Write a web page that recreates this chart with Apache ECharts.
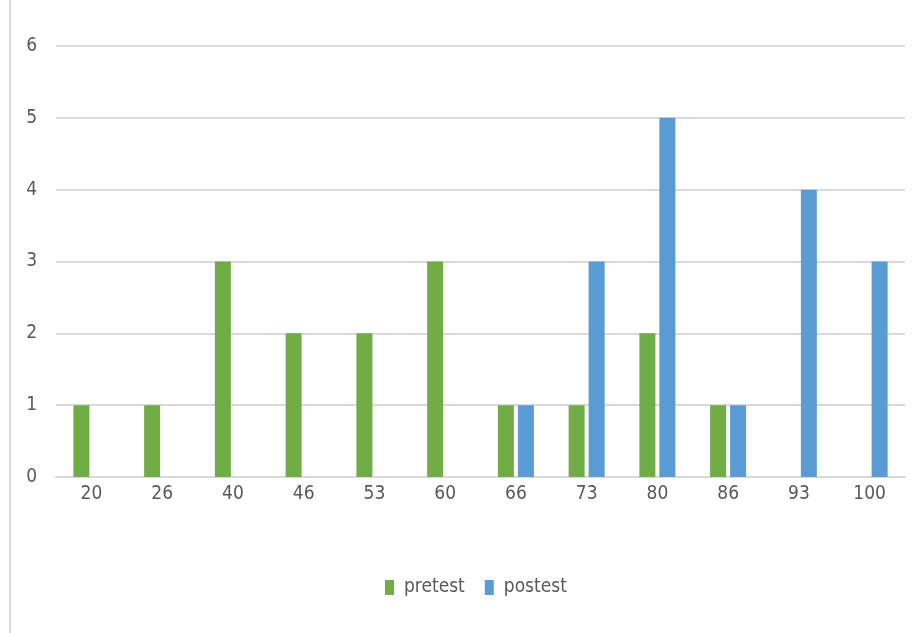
<!DOCTYPE html>
<html>
<head>
<meta charset="utf-8">
<script src="https://cdn.jsdelivr.net/npm/echarts@6/dist/echarts.min.js"></script>
<style>
  html, body { margin: 0; padding: 0; background: #fff; }
  #main { width: 918px; height: 633px; }
</style>
</head>
<body>
<div id="main"></div>
<script>
// scores on the x axis
let scores = ['20', '26', '40', '46', '53', '60', '66', '73', '80', '86', '93', '100'];
// number of students per score
let pretest = [1, 1, 3, 2, 2, 3, 1, 1, 2, 1, null, null];
let postest = [null, null, null, null, null, null, 1, 3, 5, 1, 4, 3];

let font = '"DejaVu Sans Condensed", "Liberation Sans Narrow", sans-serif';

let option = {
    animation: false,
    textStyle: {fontFamily: font},
    grid: {left: 56, right: 13, top: 46, bottom: 156, containLabel: false},
    legend: {
        top: 578,
        left: 385,
        padding: 0,
        icon: 'rect',
        itemWidth: 9,
        itemHeight: 15,
        itemGap: 20,
        textStyle: {fontFamily: font, fontSize: 19, color: '#595959', padding: [0, 0, 0, 5]},
        data: ['pretest', 'postest']
    },
    xAxis: {
        type: 'category',
        data: scores,
        axisTick: {show: false},
        axisLine: {lineStyle: {color: '#d9d9d9', width: 2}},
        axisLabel: {fontFamily: font, fontSize: 19, color: '#595959', margin: 8}
    },
    yAxis: {
        type: 'value',
        min: 0,
        max: 6,
        interval: 1,
        axisLine: {show: false},
        axisTick: {show: false},
        splitLine: {lineStyle: {color: '#d9d9d9', width: 2}},
        axisLabel: {fontFamily: font, fontSize: 19, color: '#595959', margin: 19}
    },
    series: [
        {name: 'pretest', type: 'bar', data: pretest, barWidth: 16, barGap: '25%',
         itemStyle: {color: '#70ad47'}},
        {name: 'postest', type: 'bar', data: postest, barWidth: 16, barGap: '25%',
         itemStyle: {color: '#5b9bd5'}}
    ],
    graphic: [{
        type: 'line',
        shape: {x1: 10, y1: 0, x2: 10, y2: 633},
        style: {stroke: '#d9d9d9', lineWidth: 2}
    }]
};

let chart = echarts.init(document.getElementById('main'));
chart.setOption(option);
</script>
</body>
</html>
